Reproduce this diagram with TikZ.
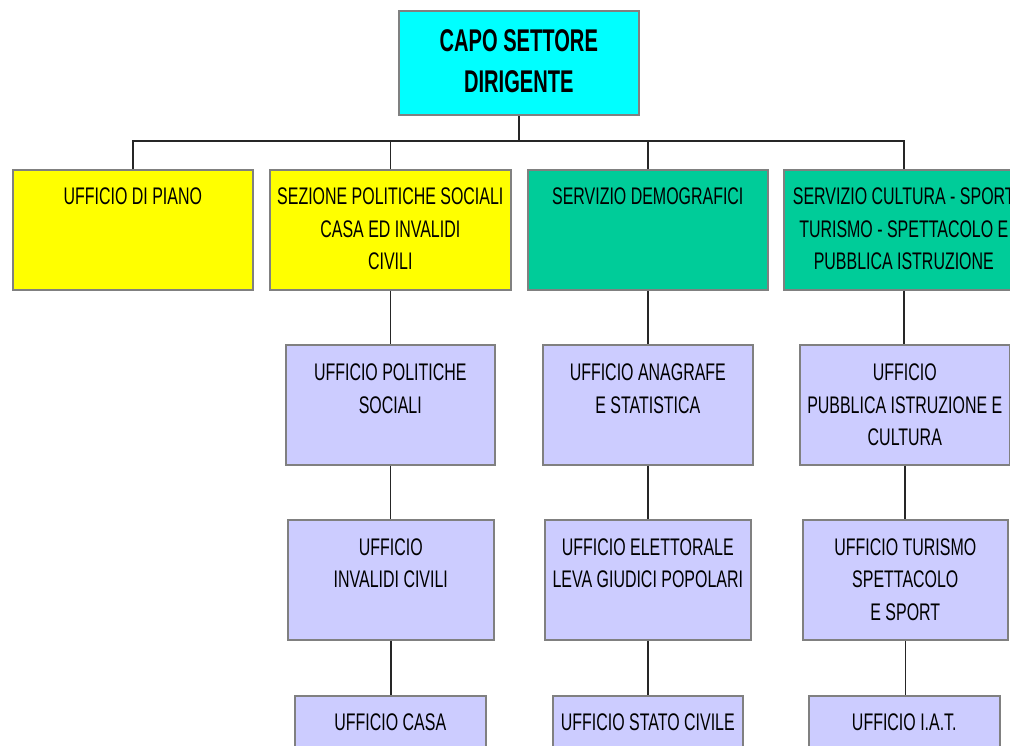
\documentclass[tikz,border=0pt]{standalone}
\usepackage{fontspec}
\setmainfont{Liberation Sans}[FakeStretch=0.665]
\newfontfamily\capfont{Liberation Sans}[FakeStretch=0.64]
\usetikzlibrary{calc}
\definecolor{capo}{HTML}{00FFFF}
\definecolor{giallo}{HTML}{FFFF00}
\definecolor{verde}{HTML}{00CC99}
\definecolor{lilla}{HTML}{CCCCFF}
\definecolor{bordo}{HTML}{808080}
\tikzset{
  box/.style={draw=bordo, line width=1.6bp, rectangle, inner sep=0pt, anchor=north west},
  conn/.style={draw=black!85, line width=1.4bp},
  txt/.style={anchor=base, inner sep=0pt, font=\fontsize{24bp}{32.5bp}\selectfont},
  captxt/.style={anchor=base, inner sep=0pt, font=\capfont\bfseries\fontsize{31.4bp}{41bp}\selectfont},
}
\newcommand{\ptxt}[1]{\parbox[t]{320bp}{\centering #1}}
\begin{document}
\begin{tikzpicture}[x=1bp,y=-1bp]
\useasboundingbox (0,0) rectangle (1010,746);
\clip (0,0) rectangle (1010,746);
\fill[white] (0,0) rectangle (1010,746);
% boxes
\node[box, fill=capo, minimum width=240bp, minimum height=104bp] (top) at (398,10) {};
\node[box, fill=giallo, minimum width=240bp, minimum height=120bp] (c1) at (12,169) {};
\node[box, fill=giallo, minimum width=241bp, minimum height=120bp] (c2) at (269,169) {};
\node[box, fill=verde, minimum width=240bp, minimum height=120bp] (c3) at (527,169) {};
\node[box, fill=verde, minimum width=240bp, minimum height=120bp] (c4) at (783,169) {};
\node[box, fill=lilla, minimum width=209bp, minimum height=120bp] (a2) at (285,344) {};
\node[box, fill=lilla, minimum width=210bp, minimum height=120bp] (a3) at (542,344) {};
\node[box, fill=lilla, minimum width=210bp, minimum height=120bp] (a4) at (799,344) {};
\node[box, fill=lilla, minimum width=206bp, minimum height=120bp] (b2) at (287,519) {};
\node[box, fill=lilla, minimum width=206bp, minimum height=120bp] (b3) at (544,519) {};
\node[box, fill=lilla, minimum width=205bp, minimum height=120bp] (b4) at (802,519) {};
\node[box, fill=lilla, minimum width=191bp, minimum height=120bp] (d2) at (294,695) {};
\node[box, fill=lilla, minimum width=190bp, minimum height=120bp] (d3) at (552,695) {};
\node[box, fill=lilla, minimum width=191bp, minimum height=120bp] (d4) at (808,695) {};
% texts
\node[captxt] (topt) at ($(top.north)+(0,42)$) {\ptxt{CAPO SETTORE\\DIRIGENTE}};
\node[txt] (c1t) at ($(c1.north)+(0,35.5)$) {\ptxt{UFFICIO DI PIANO}};
\node[txt] (c2t) at ($(c2.north)+(0,35.5)$) {\ptxt{SEZIONE POLITICHE SOCIALI\\CASA ED INVALIDI\\CIVILI}};
\node[txt] (c3t) at ($(c3.north)+(0,35.5)$) {\ptxt{SERVIZIO DEMOGRAFICI}};
\node[txt] (c4t) at ($(c4.north)+(0,35.5)$) {\ptxt{SERVIZIO CULTURA - SPORT\\TURISMO - SPETTACOLO E\\PUBBLICA ISTRUZIONE}};
\node[txt] (a2t) at ($(a2.north)+(0,36.5)$) {\ptxt{UFFICIO POLITICHE\\SOCIALI}};
\node[txt] (a3t) at ($(a3.north)+(0,36.5)$) {\ptxt{UFFICIO ANAGRAFE\\E STATISTICA}};
\node[txt] (a4t) at ($(a4.north)+(0,36.5)$) {\ptxt{UFFICIO\\PUBBLICA ISTRUZIONE E\\CULTURA}};
\node[txt] (b2t) at ($(b2.north)+(0,36)$) {\ptxt{UFFICIO\\INVALIDI CIVILI}};
\node[txt] (b3t) at ($(b3.north)+(0,36)$) {\ptxt{UFFICIO ELETTORALE\\LEVA GIUDICI POPOLARI}};
\node[txt] (b4t) at ($(b4.north)+(0,36)$) {\ptxt{UFFICIO TURISMO\\SPETTACOLO\\E SPORT}};
\node[txt] (d2t) at ($(d2.north)+(0,35)$) {\ptxt{UFFICIO CASA}};
\node[txt] (d3t) at ($(d3.north)+(0,35)$) {\ptxt{UFFICIO STATO CIVILE}};
\node[txt] (d4t) at ($(d4.north)+(0,35)$) {\ptxt{UFFICIO I.A.T.}};
% connectors
\coordinate (bus) at (518,141);
\draw[conn] (top.south) -- (top.south |- bus);
\draw[conn] (c1.north) |- (bus) -| (c4.north);
\draw[conn] (c2.north) -- (c2.north |- bus);
\draw[conn] (c3.north) -- (c3.north |- bus);
\draw[conn] (c2.south) -- (c2.south |- a2.north);
\draw[conn] (a2.south) -- (a2.south |- b2.north);
\draw[conn] (b2.south) -- (b2.south |- d2.north);
\draw[conn] (c3.south) -- (c3.south |- a3.north);
\draw[conn] (a3.south) -- (a3.south |- b3.north);
\draw[conn] (b3.south) -- (b3.south |- d3.north);
\draw[conn] (c4.south) -- (c4.south |- a4.north);
\draw[conn] (a4.south) -- (a4.south |- b4.north);
\draw[conn] (b4.south) -- (b4.south |- d4.north);
\end{tikzpicture}
\end{document}
